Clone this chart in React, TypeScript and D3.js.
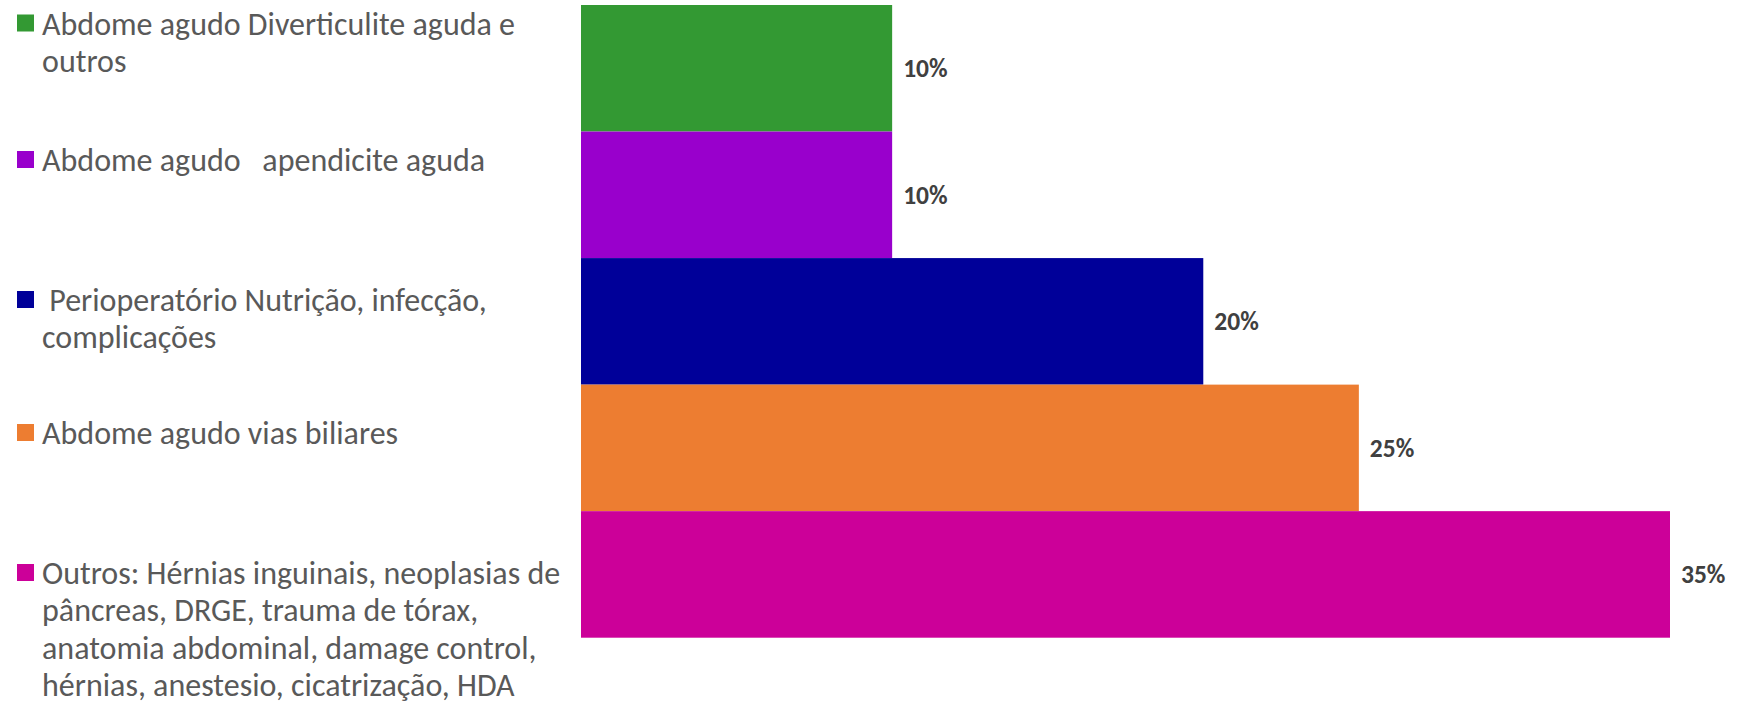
import React, { useEffect } from "react";
import * as d3 from "d3";

const categoryLines: string[][] = [
  ["Abdome agudo Diverticulite aguda e", "outros"],
  ["Abdome agudo   apendicite aguda"],
  [" Perioperatório Nutrição, infecção,", "complicações"],
  ["Abdome agudo vias biliares"],
  ["Outros: Hérnias inguinais, neoplasias de", "pâncreas, DRGE, trauma de tórax,", "anatomia abdominal, damage control,", "hérnias, anestesio, cicatrização, HDA"],
];
const values: number[] = [0.10, 0.10, 0.20, 0.25, 0.35];
const valueLabels: string[] = ["10%", "10%", "20%", "25%", "35%"];
const colors: string[] = ["#339933", "#9900CC", "#000099", "#ED7D31", "#CC0099"];

const W = 1742;
const H = 708;
const FONT = "Carlito, Calibri, Lato, 'Open Sans', sans-serif";

export default function App() {
  useEffect(() => {
    document.body.style.margin = "0";
  }, []);

  const x = d3.scaleLinear().domain([0, 0.35]).range([581, 1670]);
  const y = d3
    .scaleBand<number>()
    .domain(d3.range(values.length))
    .range([5, 637.7])
    .padding(0);

  const legendBaselines = [34.5, 171, 311, 444, 584];
  const lineH = 37.4;

  return (
    <svg width={W} height={H} style={{ display: "block", background: "#fff" }}>
      {values.map((v, i) => (
        <rect
          key={"b" + i}
          x={x(0)}
          y={y(i)!}
          width={x(v) - x(0)}
          height={y.bandwidth()}
          fill={colors[i]}
        />
      ))}
      {values.map((v, i) => (
        <text
          key={"l" + i}
          x={x(v) + 11}
          y={y(i)! + y.bandwidth() / 2}
          dy="0.35em"
          fontFamily={FONT}
          fontWeight="bold"
          fontSize={25.5}
          fill="#404040"
        >
          {valueLabels[i]}
        </text>
      ))}
      {categoryLines.map((lines, i) => (
        <g key={"g" + i}>
          <rect
            x={17}
            y={legendBaselines[i] - 20}
            width={17}
            height={17}
            fill={colors[i]}
          />
          {lines.map((ln, j) => (
            <text
              key={j}
              x={42}
              y={legendBaselines[i] + j * lineH}
              fontFamily={FONT}
              fontSize={32}
              fill="#595959"
              style={{ whiteSpace: "pre" }}
            >
              {ln}
            </text>
          ))}
        </g>
      ))}
    </svg>
  );
}
